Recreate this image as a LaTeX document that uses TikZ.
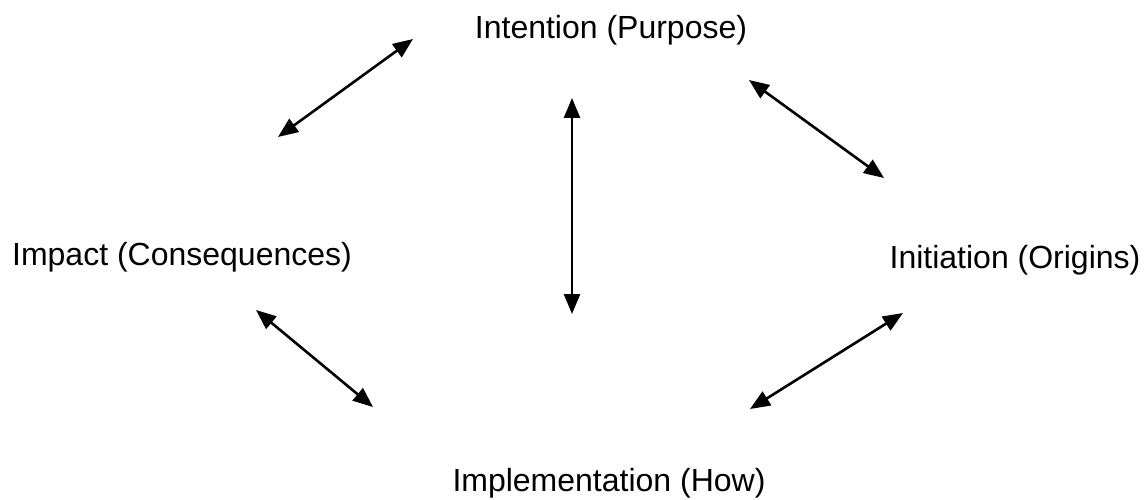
\documentclass[tikz,border=0pt]{standalone}
\usepackage{fontspec}
\setmainfont{Liberation Sans}
\usetikzlibrary{arrows.meta}

\tikzset{
  label text/.style={anchor=base, inner sep=0pt, font=\fontsize{32}{38}\selectfont},
  link/.style={line width=2.6pt, {Triangle[length=20pt,width=16pt]}-{Triangle[length=20pt,width=16pt]}}
}

\begin{document}
\begin{tikzpicture}[x=1pt,y=1pt]
  \useasboundingbox (0,0) rectangle (1145,499);

  % the four aspects
  \node[label text] (intention) at (611,460) {Intention (Purpose)};
  \node[label text] (impact) at (182,234) {Impact (Consequences)};
  \node[label text] (initiation) at (1015,231) {Initiation (Origins)};
  \node[label text] (implementation) at (609,7.5) {Implementation (How)};

  % arrow ends
  \coordinate (a1s) at (413,460);
  \coordinate (a1e) at (278,362);
  \coordinate (a2s) at (572,401);
  \coordinate (a2e) at (572,185);
  \coordinate (a3s) at (749,419);
  \coordinate (a3e) at (884,321);
  \coordinate (a4s) at (256,189);
  \coordinate (a4e) at (373,92);
  \coordinate (a5s) at (903,186);
  \coordinate (a5e) at (750,90);

  % two-way links
  \draw[link] (a1s) -- (a1e);
  \draw[link] (a2s) -- (a2e);
  \draw[link] (a3s) -- (a3e);
  \draw[link] (a4s) -- (a4e);
  \draw[link] (a5s) -- (a5e);
\end{tikzpicture}
\end{document}
